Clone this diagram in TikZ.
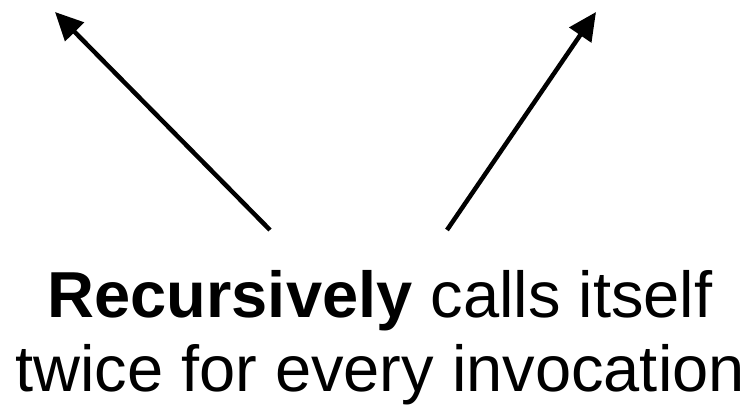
\documentclass[tikz,border=0pt]{standalone}
\usepackage{fontspec}
\setmainfont{Liberation Sans}
\usetikzlibrary{arrows.meta,positioning}

\begin{document}
\begin{tikzpicture}[x=1pt,y=-1pt,every node/.style={font=\fontsize{65}{74}\selectfont}]
\useasboundingbox (0,0) rectangle (753,419);

% Caption under the two recursive calls
\node[align=center,anchor=base] (caption) at (380,392) {\textbf{Recursively} calls itself\\twice for every invocation};

% Ends of the two call arrows
\coordinate (leftfoot) at (270,230);
\coordinate (lefttip) at (55,12);
\coordinate (rightfoot) at (447,230);
\coordinate (righttip) at (596,12);

\draw[line width=4.5pt,-{Triangle[length=28pt,width=26pt]}] (leftfoot) -- (lefttip);
\draw[line width=4.5pt,-{Triangle[length=28pt,width=26pt]}] (rightfoot) -- (righttip);

\end{tikzpicture}
\end{document}
